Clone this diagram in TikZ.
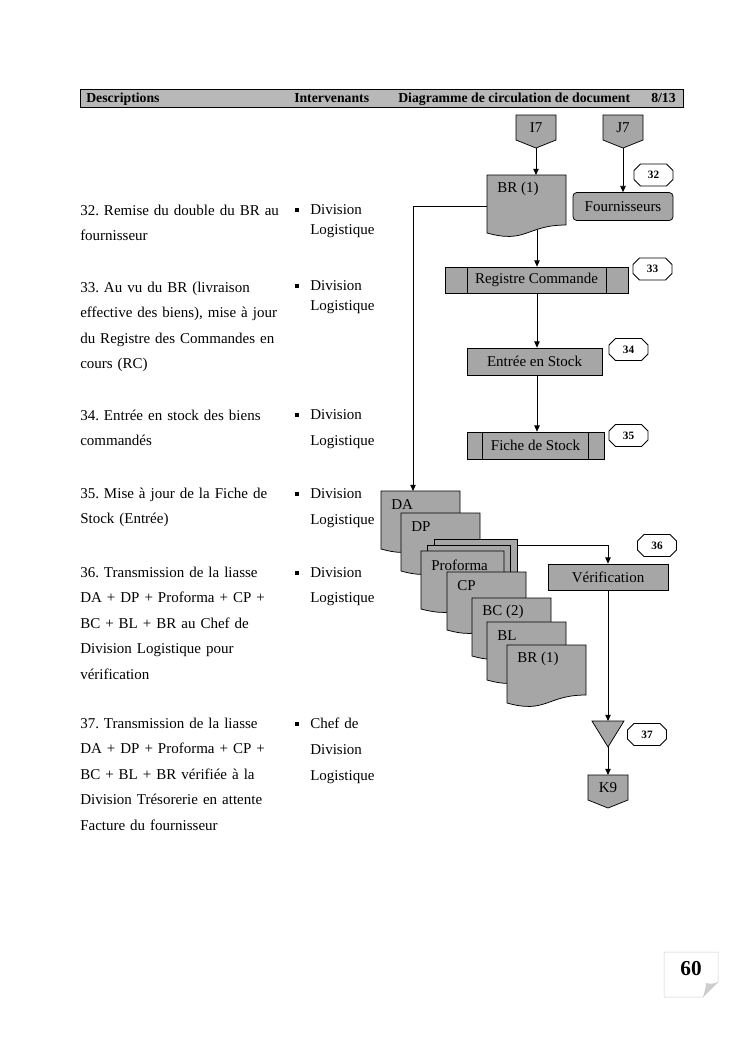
\documentclass[tikz,border=0pt]{standalone}
\usepackage{fontspec}
\setmainfont{Liberation Serif}
\usetikzlibrary{positioning, arrows.meta, calc}
\definecolor{boxgray}{RGB}{166,166,166}
\definecolor{headgray}{RGB}{184,184,184}
\definecolor{pagegray}{RGB}{205,205,205}
\frenchspacing

\begin{document}
\begin{tikzpicture}[x=0.8pt, y=-0.8pt,
    flow/.style={-{Triangle[length=5pt, width=4.4pt]}, line width=0.6pt},
    proc/.style={draw, fill=boxgray, line width=0.6pt, inner sep=0pt, font=\fontsize{12}{14}\selectfont},
    predef/.style={proc, path picture={
        \draw[line width=0.6pt] ([xshift=#1]path picture bounding box.north west) -- ([xshift=#1]path picture bounding box.south west);
        \draw[line width=0.6pt] ([xshift=-#1]path picture bounding box.north east) -- ([xshift=-#1]path picture bounding box.south east);}},
    octo/.style={draw, fill=white, line width=0.6pt},
    numlabel/.style={inner sep=0pt, font=\bfseries\fontsize{9}{10}\selectfont},
    docshape/.style={draw, fill=boxgray, line width=0.6pt},
    doclabel/.style={anchor=west, inner sep=0pt, font=\fontsize{12}{14}\selectfont},
    desc/.style={anchor=base west, inner sep=0pt, text width=195pt, align=left, font=\fontsize{12}{20.4}\selectfont},
    who/.style={anchor=base west, inner sep=0pt, text width=70pt, align=left, font=\fontsize{12}{#1}\selectfont},
    head/.style={anchor=base west, inner sep=0pt, font=\bfseries\fontsize{11}{13}\selectfont}]
\useasboundingbox (0,0) rectangle (744,1053);

% en-tete
\draw[fill=headgray, line width=0.8pt] (80,89) rectangle (683,107);
\node[head] (hdesc) at (86,102) {Descriptions};
\node[head] (hint) at (294,102) {Intervenants};
\node[head] (hdiag) at (398,102) {Diagramme de circulation de document};
\node[head] (hpage) at (651,102) {8/13};

% descriptions
\node[desc] (d32) at (80,215) {32. Remise du double du BR au\\fournisseur};
\node[desc] (d33) at (80,292) {33. Au vu du BR (livraison\\effective des biens), mise à jour\\du Registre des Commandes en\\cours (RC)};
\node[desc] (d34) at (80,420) {34. Entrée en stock des biens\\commandés};
\node[desc] (d35) at (80,498) {35. Mise à jour de la Fiche de\\Stock (Entrée)};
\node[desc] (d36) at (80,577) {36. Transmission de la liasse\\DA + DP + Proforma + CP +\\BC + BL + BR au Chef de\\Division Logistique pour\\vérification};
\node[desc] (d37) at (80,728) {37. Transmission de la liasse\\DA + DP + Proforma + CP +\\BC + BL + BR vérifiée à la\\Division Trésorerie en attente\\Facture du fournisseur};

% intervenants
\node[who=16] (w32) at (310,214) {Division\\Logistique};
\node[who=16] (w33) at (310,290) {Division\\Logistique};
\node[who=21] (w34) at (310,419) {Division\\Logistique};
\node[who=21] (w35) at (310,498) {Division\\Logistique};
\node[who=20.4] (w36) at (310,577) {Division\\Logistique};
\node[who=21] (w37) at (310,728) {Chef de\\Division\\Logistique};
\foreach \y in {214,290,419,498,577,728}
  \fill (295,\y-6.5) rectangle (299,\y-2.5);

% renvois
\foreach \cx/\ty/\lbl/\nm in {536/115/I7/i7, 623/115/J7/j7, 608/775/K9/k9} {
  \draw[docshape] (\cx-20,\ty) -- (\cx+20,\ty) -- (\cx+20,\ty+25) -- (\cx,\ty+33) -- (\cx-20,\ty+25) -- cycle;
  \node[inner sep=0pt, font=\fontsize{12}{14}\selectfont] (\nm) at (\cx,\ty+13) {\lbl};
  \coordinate (\nm top) at (\cx,\ty);
  \coordinate (\nm tip) at (\cx,\ty+33);
}

% BR (1) du haut
\draw[docshape] (487,175) -- ++(79,0) -- ++(0,50) .. controls (526.5,225) and (526.5,244) .. (487,233) -- cycle;
\node[doclabel] (brdoc) at (497,189) {BR (1)};
\coordinate (brtop) at (536,175);
\coordinate (brbot) at (537,230);
\coordinate (brw) at (487,206);

% traitements
\node[proc, rounded corners=3pt, minimum width=80pt, minimum height=22.4pt] (four) at (623,206.5) {Fournisseurs};
\node[predef=17.6pt, minimum width=146.4pt, minimum height=20.8pt] (reg) at (536.5,280) {Registre Commande};
\node[proc, minimum width=108pt, minimum height=21.6pt] (ent) at (534.5,361.5) {Entrée en Stock};
\node[predef=12.4pt, minimum width=109.6pt, minimum height=21.6pt] (fiche) at (535.5,445.5) {Fiche de Stock};
\node[proc, minimum width=96pt, minimum height=20.8pt] (verif) at (608,577) {Vérification};

% numeros
\foreach \cx/\cy/\n in {653.5/175/32, 652.5/269/33, 628.5/349.5/34, 628.5/435.5/35, 657/545.5/36, 647/734.5/37} {
  \draw[octo] (\cx-19.5,\cy-4.5) -- (\cx-13,\cy-11) -- (\cx+13,\cy-11) -- (\cx+19.5,\cy-4.5)
    -- (\cx+19.5,\cy+4.5) -- (\cx+13,\cy+11) -- (\cx-13,\cy+11) -- (\cx-19.5,\cy+4.5) -- cycle;
  \node[numlabel] (o\n) at (\cx,\cy) {\n};
}

% liasse
\foreach \X/\Y/\lbl/\nm in {381/491/DA/da, 401/513/DP/dp} {
  \draw[docshape] (\X,\Y) -- ++(79,0) -- ++(0,50) .. controls (\X+39.5,\Y+50) and (\X+39.5,\Y+69) .. (\X,\Y+58) -- cycle;
  \node[doclabel] (\nm) at (\X+10,\Y+14) {\lbl};
}
\coordinate (dain) at (413,491);
\draw[docshape] (434,539) rectangle (517,590);
\draw[docshape] (427,545) rectangle (510,596);
\draw[docshape] (421,551) -- ++(83,0) -- ++(0,50) .. controls (462.5,601) and (462.5,620) .. (421,609) -- cycle;
\node[doclabel] (pf) at (431,565) {Proforma};
\coordinate (pfout) at (517,545);
\foreach \X/\Y/\lbl/\nm in {447/572/CP/cp, 472/598/BC (2)/bc, 487/622/BL/bl, 507/645/BR (1)/br} {
  \draw[docshape] (\X,\Y) -- ++(79,0) -- ++(0,50) .. controls (\X+39.5,\Y+50) and (\X+39.5,\Y+69) .. (\X,\Y+58) -- cycle;
  \node[doclabel] (\nm) at (\X+10,\Y+14) {\lbl};
}

% attente
\draw[docshape] (592,721) -- (624,721) -- (608,747) -- cycle;
\coordinate (mtop) at (608,721);
\coordinate (mtip) at (608,747);

% liaisons
\draw[flow] (i7tip) -- (brtop);
\draw[flow] (j7tip) -- (four.north);
\draw[flow] (brbot) -- (brbot |- reg.north);
\draw[flow] (reg.south -| brbot) -- (brbot |- ent.north);
\draw[flow] (ent.south -| brbot) -- (brbot |- fiche.north);
\draw[flow] (brw) -| (dain);
\draw[flow] (pfout) -| (verif.north);
\draw[flow] (verif.south) -- (mtop);
\draw[flow] (mtip) -- (k9top);

% numero de page
\draw[pagegray, fill=white] (664,952) -- (718,952) -- (718,982) -- (703,997) -- (664,997) -- cycle;
\fill[pagegray] (703,997) .. controls (705,991) and (706,986) .. (706,983) .. controls (710,984) and (714,984) .. (718,982) -- cycle;
\node[inner sep=0pt, font=\bfseries\fontsize{17}{20}\selectfont] (pnum) at (691,969) {60};
\end{tikzpicture}
\end{document}
